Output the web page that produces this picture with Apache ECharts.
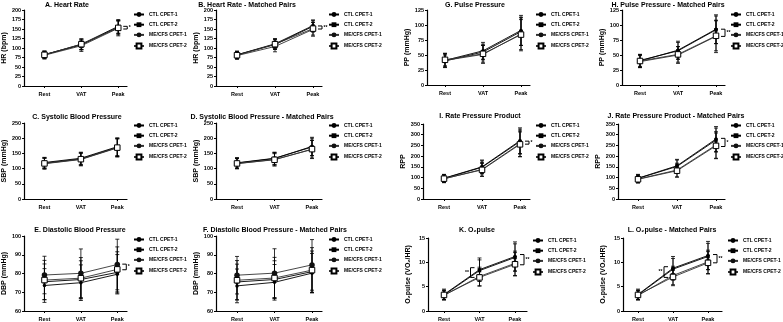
<!DOCTYPE html>
<html><head><meta charset="utf-8">
<script src="https://cdn.jsdelivr.net/npm/echarts@6/dist/echarts.min.js"></script>
<style>html,body{margin:0;padding:0;background:#fff}#c{width:783px;height:322px}</style>
</head><body><div id="c"></div>
<script>
const CATEGORIES = ['Rest', 'VAT', 'Peak'];
const SERIES_NAMES = ['CTL CPET-1', 'CTL CPET-2', 'ME/CFS CPET-1', 'ME/CFS CPET-2'];

// A. Heart Rate
const HR_MEANS = [[82, 110, 157], [83, 108, 155], [81, 106, 152], [82, 110, 153]];
const HR_SD = [[10, 14, 18], [9, 13, 17], [10, 15, 20], [9, 14, 18]];
// B. Heart Rate - Matched Pairs
const HR_MP_MEANS = [[82, 111, 159], [82, 109, 157], [80, 104, 149], [81, 110, 151]];
const HR_MP_SD = [[10, 14, 15], [9, 13, 15], [10, 14, 18], [9, 13, 17]];
// G. Pulse Pressure
const PP_MEANS = [[41, 57, 91], [40, 55, 89], [41, 51, 85], [42, 52, 84]];
const PP_SD = [[11, 14, 25], [10, 13, 23], [12, 15, 28], [10, 14, 25]];
// H. Pulse Pressure - Matched Pairs
const PP_MP_MEANS = [[40, 58, 93], [41, 57, 92], [39, 50, 81], [40, 51, 82]];
const PP_MP_SD = [[11, 15, 24], [10, 14, 23], [10, 14, 27], [10, 13, 25]];
// C. Systolic Blood Pressure
const SBP_MEANS = [[118, 132, 170], [120, 134, 172], [116, 130, 168], [117, 131, 169]];
const SBP_SD = [[18, 20, 30], [17, 20, 29], [18, 21, 30], [17, 20, 29]];
// D. Systolic Blood Pressure - Matched Pairs
const SBP_MP_MEANS = [[118, 133, 173], [119, 134, 171], [116, 130, 163], [117, 129, 164]];
const SBP_MP_SD = [[17, 20, 30], [17, 20, 29], [17, 21, 30], [16, 20, 29]];
// I. Rate Pressure Product
const RPP_MEANS = [[97, 150, 272], [96, 148, 268], [94, 138, 258], [95, 136, 255]];
const RPP_SD = [[18, 32, 60], [17, 30, 58], [18, 32, 60], [17, 30, 58]];
// J. Rate Pressure Product - Matched Pairs
const RPP_MP_MEANS = [[97, 155, 280], [96, 152, 275], [93, 135, 252], [92, 132, 248]];
const RPP_MP_SD = [[18, 30, 58], [17, 30, 56], [18, 32, 62], [17, 30, 60]];
// E. Diastolic Blood Pressure
const DBP_MEANS = [[73.6, 75.1, 79.6], [75.6, 76.8, 80.6], [79.2, 80.1, 84.8], [76.5, 77.5, 82.2]];
const DBP_SD = [[9, 9.5, 10.5], [9.5, 10, 11], [10, 13, 13.5], [10.5, 11, 12]];
// F. Diastolic Blood Pressure - Matched Pairs
const DBP_MP_MEANS = [[73.4, 75.3, 80.2], [75.5, 76.8, 81.0], [79.1, 80.2, 84.6], [76.4, 77.6, 81.8]];
const DBP_MP_SD = [[9, 9.5, 10.5], [9.5, 10, 11], [10, 13, 13.5], [10.5, 11, 12]];
// K. O2pulse
const O2_MEANS = [[3.4, 8.5, 11.2], [3.3, 8.3, 11.0], [3.2, 7.1, 9.8], [3.3, 6.9, 9.6]];
const O2_SD = [[1.1, 2.4, 3.0], [1.0, 2.2, 2.8], [0.9, 1.9, 2.5], [0.9, 1.8, 2.4]];
// L. O2pulse - Matched Pairs
const O2_MP_MEANS = [[3.4, 8.8, 11.4], [3.3, 8.6, 11.2], [3.2, 7.3, 10.1], [3.3, 7.0, 9.9]];
const O2_MP_SD = [[1.1, 2.4, 2.9], [1.0, 2.2, 2.7], [0.9, 1.9, 2.4], [0.9, 1.8, 2.3]];

// significance brackets: [category index, low, high, side, label]
const HR_BRACKETS = [[2, 150, 157, 'right', '*']];
const HR_MP_BRACKETS = [[2, 150, 158, 'right', '**']];
const PP_MP_BRACKETS = [[2, 81, 93, 'right', '**']];
const RPP_BRACKETS = [[2, 256, 270, 'right', '*']];
const RPP_MP_BRACKETS = [[2, 245, 283, 'right', '*']];
const DBP_BRACKETS = [[2, 82, 85, 'right', '*']];
const O2_BRACKETS = [[1, 6.9, 8.9, 'left', '**'], [2, 9.5, 11.6, 'right', '**']];
const O2_MP_BRACKETS = [[1, 6.9, 9.1, 'left', '**'], [2, 9.9, 11.6, 'right', '**']];

const FONT = '"Liberation Sans", Arial, sans-serif';
const panels = [
  {title: 'A. Heart Rate', tx: 67, ty: 5, left: 21, end: 127, top: 10, bottom: 86, rx: 42, px: 118, ymin: 0, ymax: 200, yint: 25, yname: 'HR (bpm)', ng: 13, means: HR_MEANS, sd: HR_SD, br: HR_BRACKETS, lx: 133, ly: 12},
  {title: 'B. Heart Rate - Matched Pairs', tx: 247, ty: 5, left: 216, end: 322, top: 10, bottom: 86, rx: 237, px: 313, ymin: 0, ymax: 200, yint: 25, yname: 'HR (bpm)', ng: 13, means: HR_MP_MEANS, sd: HR_MP_SD, br: HR_MP_BRACKETS, lx: 328, ly: 12},
  {title: 'G. Pulse Pressure', tx: 475, ty: 5, left: 427, end: 530, top: 10, bottom: 85, rx: 445, px: 521, ymin: 0, ymax: 125, yint: 25, yname: 'PP (mmHg)', ng: 14, means: PP_MEANS, sd: PP_SD, br: [], lx: 535, ly: 12},
  {title: 'H. Pulse Pressure - Matched Pairs', tx: 668, ty: 5, left: 622, end: 725, top: 10, bottom: 85, rx: 640, px: 716, ymin: 0, ymax: 125, yint: 25, yname: 'PP (mmHg)', ng: 14, means: PP_MP_MEANS, sd: PP_MP_SD, br: PP_MP_BRACKETS, lx: 730, ly: 12},
  {title: 'C. Systolic Blood Pressure', tx: 77, ty: 117, left: 21, end: 127, top: 123, bottom: 199, rx: 42, px: 117, ymin: 0, ymax: 250, yint: 50, yname: 'SBP (mmHg)', ng: 13, means: SBP_MEANS, sd: SBP_SD, br: [], lx: 133, ly: 123},
  {title: 'D. Systolic Blood Pressure - Matched Pairs', tx: 262, ty: 117, left: 216, end: 322, top: 123, bottom: 199, rx: 237, px: 312, ymin: 0, ymax: 250, yint: 50, yname: 'SBP (mmHg)', ng: 13, means: SBP_MP_MEANS, sd: SBP_MP_SD, br: [], lx: 328, ly: 123},
  {title: 'I. Rate Pressure Product', tx: 480, ty: 116, left: 423, end: 530, top: 124, bottom: 199, rx: 444, px: 520, ymin: 0, ymax: 350, yint: 50, yname: 'RPP', ng: 13, means: RPP_MEANS, sd: RPP_SD, br: RPP_BRACKETS, lx: 535, ly: 123},
  {title: 'J. Rate Pressure Product - Matched Pairs', tx: 676, ty: 116, left: 618, end: 725, top: 124, bottom: 199, rx: 638, px: 716, ymin: 0, ymax: 350, yint: 50, yname: 'RPP', ng: 13, means: RPP_MP_MEANS, sd: RPP_MP_SD, br: RPP_MP_BRACKETS, lx: 730, ly: 123},
  {title: 'E. Diastolic Blood Pressure', tx: 80, ty: 230, left: 21, end: 127, top: 236, bottom: 312, rx: 42, px: 117, ymin: 60, ymax: 100, yint: 10, yname: 'DBP (mmHg)', ng: 13, means: DBP_MEANS, sd: DBP_SD, br: DBP_BRACKETS, lx: 133, ly: 237},
  {title: 'F. Diastolic Blood Pressure - Matched Pairs', tx: 275, ty: 230, left: 216, end: 322, top: 236, bottom: 312, rx: 237, px: 312, ymin: 60, ymax: 100, yint: 10, yname: 'DBP (mmHg)', ng: 13, means: DBP_MP_MEANS, sd: DBP_MP_SD, br: [], lx: 328, ly: 237},
  {title: 'K. O\u2082pulse', tx: 477, ty: 230, left: 428, end: 527, top: 238, bottom: 312, rx: 444, px: 515, ymin: 0, ymax: 15, yint: 5, yname: 'O\u2082pulse (VO\u2082/HR)', ng: 16, means: O2_MEANS, sd: O2_SD, br: O2_BRACKETS, lx: 532, ly: 238},
  {title: 'L. O\u2082pulse - Matched Pairs', tx: 672, ty: 230, left: 623, end: 722, top: 238, bottom: 312, rx: 638, px: 708, ymin: 0, ymax: 15, yint: 5, yname: 'O\u2082pulse (VO\u2082/HR)', ng: 16, means: O2_MP_MEANS, sd: O2_MP_SD, br: O2_MP_BRACKETS, lx: 727, ly: 238}
];

const SYMBOLS = [
  {symbol: 'circle', size: 3.5, fill: '#000'},
  {symbol: 'rect', size: 3.5, fill: '#000'},
  {symbol: 'circle', size: 5.5, fill: '#111'},
  {symbol: 'rect', size: 5.5, fill: '#fff'}
];

const grid = [], xAxis = [], yAxis = [], series = [], legend = [], graphic = [];
panels.forEach((p, i) => {
  const sp = (p.px - p.rx) / 2;
  grid.push({left: p.left, top: p.top, width: p.end - p.left, height: p.bottom - p.top, containLabel: false});
  xAxis.push({
    type: 'value', gridIndex: i,
    min: -(p.rx - p.left) / sp, max: 2 + (p.end - p.px) / sp,
    axisLine: {onZero: false, lineStyle: {color: '#000', width: 1.2}},
    axisTick: {show: true, customValues: [0, 1, 2], length: 2, lineStyle: {color: '#000'}},
    axisLabel: {customValues: [0, 1, 2], formatter: v => CATEGORIES[Math.round(v)], fontSize: 5.5, fontWeight: 'bold', color: '#000', fontFamily: FONT, margin: 5},
    splitLine: {show: false}
  });
  yAxis.push({
    type: 'value', gridIndex: i, min: p.ymin, max: p.ymax, interval: p.yint,
    axisLine: {show: true, onZero: false, lineStyle: {color: '#000', width: 1.2}},
    axisTick: {show: true, length: 2, lineStyle: {color: '#000'}},
    axisLabel: {fontSize: 5.5, fontWeight: 'bold', color: '#000', fontFamily: FONT, margin: 3},
    splitLine: {show: false},
    name: p.yname, nameLocation: 'middle', nameGap: p.ng, nameRotate: 90,
    nameTextStyle: {fontSize: 7, fontWeight: 'bold', color: '#000', fontFamily: FONT}
  });
  graphic.push({type: 'text', x: p.tx, y: p.ty, style: {text: p.title, fill: '#000', font: 'bold 7px ' + FONT, textAlign: 'center', textVerticalAlign: 'middle'}});
  legend.push({
    data: SERIES_NAMES, orient: 'vertical', left: p.lx, top: p.ly, itemWidth: 10, itemHeight: 6, itemGap: 5.2,
    padding: 0, selectedMode: false, textStyle: {fontSize: 5, fontWeight: 'bold', color: '#000', fontFamily: FONT}
  });
  p.means.forEach((m, s) => {
    const sy = SYMBOLS[s];
    series.push({
      type: 'custom', name: 'err', xAxisIndex: i, yAxisIndex: i, silent: true, z: 2,
      data: m.map((v, j) => [j, v - p.sd[s][j], v + p.sd[s][j]]),
      renderItem: (params, api) => {
        const lo = api.coord([api.value(0), api.value(1)]);
        const hi = api.coord([api.value(0), api.value(2)]);
        const st = {stroke: '#000', lineWidth: 0.8};
        return {type: 'group', children: [
          {type: 'line', shape: {x1: lo[0], y1: lo[1], x2: hi[0], y2: hi[1]}, style: st},
          {type: 'line', shape: {x1: lo[0] - 2, y1: lo[1], x2: lo[0] + 2, y2: lo[1]}, style: st},
          {type: 'line', shape: {x1: hi[0] - 2, y1: hi[1], x2: hi[0] + 2, y2: hi[1]}, style: st}
        ]};
      }
    });
    series.push({
      type: 'line', name: SERIES_NAMES[s], xAxisIndex: i, yAxisIndex: i, z: 3,
      data: m.map((v, j) => [j, v]),
      symbol: sy.symbol, symbolSize: sy.size,
      itemStyle: {color: sy.fill, borderColor: '#000', borderWidth: s === 3 ? 1 : 0},
      lineStyle: {color: s >= 2 ? '#333' : '#000', width: 0.9}
    });
  });
  if (p.br.length) {
    series.push({
      type: 'custom', name: 'sig', xAxisIndex: i, yAxisIndex: i, silent: true, z: 4,
      data: p.br.map(b => [b[0], b[1], b[2], b[3] === 'right' ? 1 : -1]),
      renderItem: (params, api) => {
        const side = api.value(3);
        const lo = api.coord([api.value(0), api.value(1)]);
        const hi = api.coord([api.value(0), api.value(2)]);
        const lab = p.br[params.dataIndex][4];
        const x0 = lo[0] + side * 5, x1 = x0 + side * 4;
        const st = {stroke: '#000', lineWidth: 1, fill: null};
        return {type: 'group', children: [
          {type: 'polyline', shape: {points: [[x0, hi[1]], [x1, hi[1]], [x1, lo[1]], [x0, lo[1]]]}, style: st},
          {type: 'text', x: x1 + side * 1.5, y: (lo[1] + hi[1]) / 2, style: {text: lab, fill: '#000', font: 'bold 5px ' + FONT, textAlign: side > 0 ? 'left' : 'right', textVerticalAlign: 'middle'}}
        ]};
      }
    });
  }
});

const chart = echarts.init(document.getElementById('c'), null, {renderer: 'canvas'});
chart.setOption({animation: false, backgroundColor: '#fff', grid, xAxis, yAxis, series, legend, graphic, textStyle: {fontFamily: FONT}});
</script></body></html>
